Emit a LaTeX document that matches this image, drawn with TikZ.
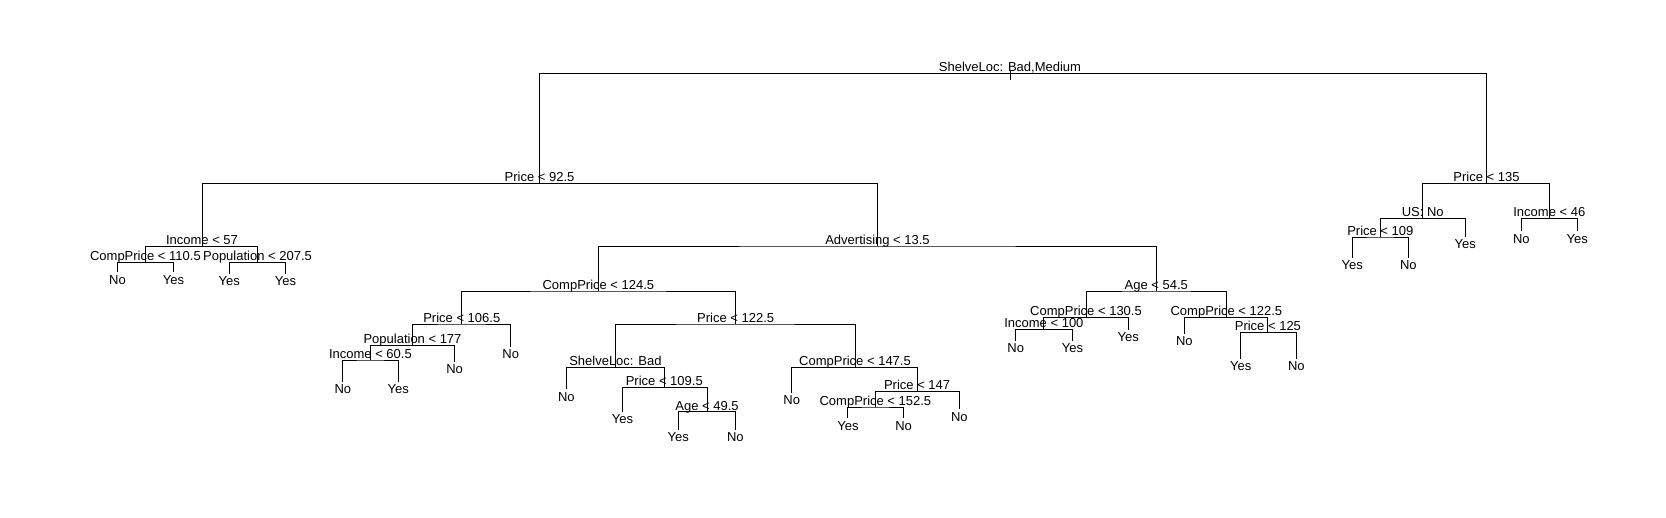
\documentclass[tikz,border=0pt]{standalone}
\usepackage{fontspec}
\setmainfont{Liberation Sans}
\begin{document}
\begin{tikzpicture}[x=1pt,y=-1pt,
  edge/.style={draw=black,line width=1pt},
  split/.style={anchor=base,inner sep=0pt,font=\fontsize{13}{15}\selectfont},
  leaflab/.style={anchor=base,inner sep=0pt,font=\fontsize{13}{15}\selectfont}]
\useasboundingbox[fill=white] (0,0) rectangle (1666,517);
% ---- tree node positions ----
\coordinate (root) at (1010,73.3);
\coordinate (rootT) at (1010,70.5);
\coordinate (rootB) at (1010,79.5);
\coordinate (A) at (539.5,183.3);
\coordinate (R) at (1486.5,183.3);
% left subtree
\coordinate (B) at (202,246.5);
\coordinate (B1) at (145.4,262.5);
\coordinate (B2) at (257.5,262.5);
\coordinate (b11) at (117.5,272.3);
\coordinate (b12) at (173.6,272.3);
\coordinate (b21) at (229.3,273.8);
\coordinate (b22) at (285.4,273.8);
\coordinate (C) at (877.5,246);
\coordinate (D) at (598.4,291);
\coordinate (E) at (1156.3,291);
\coordinate (D1) at (461.8,324);
\coordinate (D11) at (412.5,345.3);
\coordinate (D111) at (370.4,360);
\coordinate (d1111) at (342.9,381.7);
\coordinate (d1112) at (398.2,381.7);
\coordinate (d112) at (454.6,361.8);
\coordinate (d12) at (510.7,346.8);
\coordinate (D2) at (735.7,324);
\coordinate (D21) at (615.4,367.3);
\coordinate (d211) at (566.4,389.2);
\coordinate (D212) at (664.3,387.3);
\coordinate (d2121) at (622.5,412);
\coordinate (D2122) at (707.1,411.7);
\coordinate (d21221) at (678.2,430);
\coordinate (d21222) at (735.4,430);
\coordinate (D22) at (855,367.3);
\coordinate (d221) at (791.8,392.5);
\coordinate (D222) at (917.1,391.3);
\coordinate (D2221) at (875.4,407);
\coordinate (d22211) at (847.9,418.3);
\coordinate (d22212) at (903.6,418.3);
\coordinate (d2222) at (959.3,409.2);
\coordinate (E1) at (1086,317.3);
\coordinate (E11) at (1043.9,329.3);
\coordinate (e111) at (1015.7,340.8);
\coordinate (e112) at (1072.5,340.8);
\coordinate (e12) at (1128.2,329.7);
\coordinate (E2) at (1226.4,317.3);
\coordinate (e21) at (1184.3,333.5);
\coordinate (E22) at (1267.9,332.3);
\coordinate (e221) at (1240.7,358.8);
\coordinate (e222) at (1296.4,358.8);
% right subtree
\coordinate (R1) at (1422.7,218.3);
\coordinate (R11) at (1380.3,237);
\coordinate (r111) at (1352.3,257.5);
\coordinate (r112) at (1408.3,257.5);
\coordinate (r12) at (1465.3,237);
\coordinate (R2) at (1549.3,218.3);
\coordinate (r21) at (1521.3,231.3);
\coordinate (r22) at (1577.3,231.3);
% ---- connectors ----
\draw[edge] (A) |- (root) -| (R);
\draw[edge] (rootT) -- (rootB);
\draw[edge] (B) |- (A) -| (C);
\draw[edge] (B1) |- (B) -| (B2);
\draw[edge] (b11) |- (B1) -| (b12);
\draw[edge] (b21) |- (B2) -| (b22);
\draw[edge] (D) |- (C) -| (E);
\draw[edge] (D1) |- (D) -| (D2);
\draw[edge] (D11) |- (D1) -| (d12);
\draw[edge] (D111) |- (D11) -| (d112);
\draw[edge] (d1111) |- (D111) -| (d1112);
\draw[edge] (D21) |- (D2) -| (D22);
\draw[edge] (d211) |- (D21) -| (D212);
\draw[edge] (d2121) |- (D212) -| (D2122);
\draw[edge] (d21221) |- (D2122) -| (d21222);
\draw[edge] (d221) |- (D22) -| (D222);
\draw[edge] (D2221) |- (D222) -| (d2222);
\draw[edge] (d22211) |- (D2221) -| (d22212);
\draw[edge] (E1) |- (E) -| (E2);
\draw[edge] (E11) |- (E1) -| (e12);
\draw[edge] (e111) |- (E11) -| (e112);
\draw[edge] (e21) |- (E2) -| (E22);
\draw[edge] (e221) |- (E22) -| (e222);
\draw[edge] (R1) |- (R) -| (R2);
\draw[edge] (R11) |- (R1) -| (r12);
\draw[edge] (r111) |- (R11) -| (r112);
\draw[edge] (r21) |- (R2) -| (r22);
% ---- split labels ----
\node[split] (troot) at ([yshift=1.6pt]root) {ShelveLoc: Bad,Medium};
\node[split] (tA) at ([yshift=1.6pt]A) {Price < 92.5};
\node[split] (tR) at ([yshift=1.6pt]R) {Price < 135};
\node[split] (tB) at ([yshift=1.6pt]B) {Income < 57};
\node[split] (tB1) at ([yshift=1.6pt]B1) {CompPrice < 110.5};
\node[split] (tB2) at ([yshift=1.6pt]B2) {Population < 207.5};
\node[split] (tC) at ([yshift=1.6pt]C) {Advertising < 13.5};
\node[split] (tD) at ([yshift=1.6pt]D) {CompPrice < 124.5};
\node[split] (tE) at ([yshift=1.6pt]E) {Age < 54.5};
\node[split] (tD1) at ([yshift=1.6pt]D1) {Price < 106.5};
\node[split] (tD11) at ([yshift=1.6pt]D11) {Population < 177};
\node[split] (tD111) at ([yshift=1.6pt]D111) {Income < 60.5};
\node[split] (tD2) at ([yshift=1.6pt]D2) {Price < 122.5};
\node[split] (tD21) at ([yshift=1.6pt]D21) {ShelveLoc: Bad};
\node[split] (tD212) at ([yshift=1.6pt]D212) {Price < 109.5};
\node[split] (tD2122) at ([yshift=1.6pt]D2122) {Age < 49.5};
\node[split] (tD22) at ([yshift=1.6pt]D22) {CompPrice < 147.5};
\node[split] (tD222) at ([yshift=1.6pt]D222) {Price < 147};
\node[split] (tD2221) at ([yshift=1.6pt]D2221) {CompPrice < 152.5};
\node[split] (tE1) at ([yshift=1.6pt]E1) {CompPrice < 130.5};
\node[split] (tE11) at ([yshift=1.6pt]E11) {Income < 100};
\node[split] (tE2) at ([yshift=1.6pt]E2) {CompPrice < 122.5};
\node[split] (tE22) at ([yshift=1.6pt]E22) {Price < 125};
\node[split] (tR1) at ([yshift=1.6pt]R1) {US: No};
\node[split] (tR11) at ([yshift=1.6pt]R11) {Price < 109};
\node[split] (tR2) at ([yshift=1.6pt]R2) {Income < 46};
% ---- leaf labels ----
\node[leaflab] (lb11) at ([yshift=-12pt]b11) {No};
\node[leaflab] (lb12) at ([yshift=-12pt]b12) {Yes};
\node[leaflab] (lb21) at ([yshift=-11.5pt]b21) {Yes};
\node[leaflab] (lb22) at ([yshift=-11.5pt]b22) {Yes};
\node[leaflab] (ld1111) at ([yshift=-11.8pt]d1111) {No};
\node[leaflab] (ld1112) at ([yshift=-11.8pt]d1112) {Yes};
\node[leaflab] (ld112) at ([yshift=-11.8pt]d112) {No};
\node[leaflab] (ld12) at ([yshift=-11.8pt]d12) {No};
\node[leaflab] (ld211) at ([yshift=-11.8pt]d211) {No};
\node[leaflab] (ld2121) at ([yshift=-11.8pt]d2121) {Yes};
\node[leaflab] (ld21221) at ([yshift=-11.8pt]d21221) {Yes};
\node[leaflab] (ld21222) at ([yshift=-11.8pt]d21222) {No};
\node[leaflab] (ld221) at ([yshift=-11.8pt]d221) {No};
\node[leaflab] (ld22211) at ([yshift=-11.8pt]d22211) {Yes};
\node[leaflab] (ld22212) at ([yshift=-11.8pt]d22212) {No};
\node[leaflab] (ld2222) at ([yshift=-11.8pt]d2222) {No};
\node[leaflab] (le111) at ([yshift=-11.8pt]e111) {No};
\node[leaflab] (le112) at ([yshift=-11.8pt]e112) {Yes};
\node[leaflab] (le12) at ([yshift=-11.8pt]e12) {Yes};
\node[leaflab] (le21) at ([yshift=-11.8pt]e21) {No};
\node[leaflab] (le221) at ([yshift=-11.8pt]e221) {Yes};
\node[leaflab] (le222) at ([yshift=-11.8pt]e222) {No};
\node[leaflab] (lr111) at ([yshift=-11.8pt]r111) {Yes};
\node[leaflab] (lr112) at ([yshift=-11.8pt]r112) {No};
\node[leaflab] (lr12) at ([yshift=-11.8pt]r12) {Yes};
\node[leaflab] (lr21) at ([yshift=-11.8pt]r21) {No};
\node[leaflab] (lr22) at ([yshift=-11.8pt]r22) {Yes};
\end{tikzpicture}
\end{document}
